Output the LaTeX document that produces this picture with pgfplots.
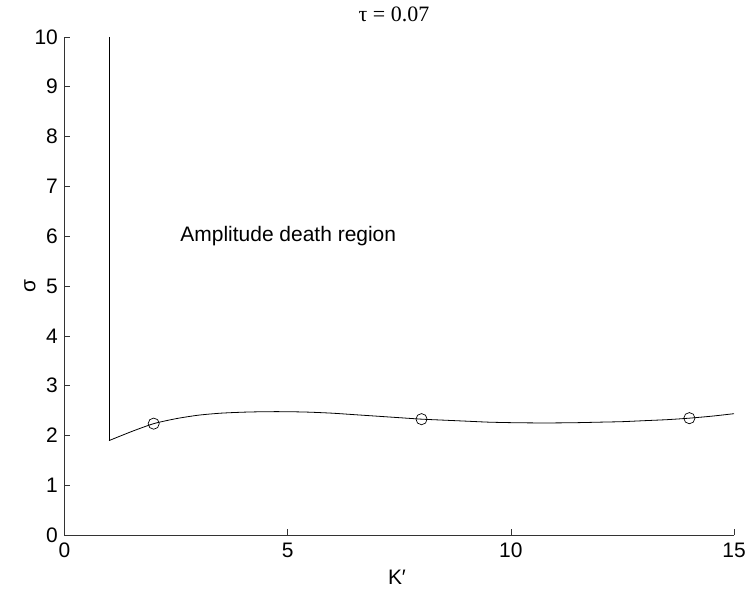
\documentclass[border=0pt]{standalone}
\usepackage{fontspec}
\setmainfont{Liberation Sans}
\newfontfamily\timesfont{Liberation Serif}
\usepackage{pgfplots}
\pgfplotsset{compat=1.18}
\begin{document}
\begin{tikzpicture}
\begin{axis}[
  at={(0,0)}, anchor=south west,
  scale only axis, width=670.5pt, height=499pt,
  xmin=0, xmax=15, ymin=0, ymax=10,
  axis x line*=bottom, axis y line*=left,
  axis line style={-, line width=0.6pt, black!80},
  tick align=inside, major tick length=6pt,
  tick style={line width=0.6pt, black!80},
  xtick={0,5,10,15}, ytick={0,1,...,10},
  tick label style={font=\fontsize{21}{25}\selectfont},
  xticklabel style={yshift=-4pt},
  yticklabel style={xshift=-3pt},
  /pgf/number format/assume math mode=true,
  clip=false,
]
\addplot[black, line width=0.8pt, smooth, tension=0.4] coordinates {
(1,1.9) (1.5,2.08) (2,2.24) (2.5,2.34) (3,2.41) (3.5,2.45) (4,2.47) (4.5,2.48) (5,2.48) (5.5,2.47) (6,2.45) (6.5,2.42) (7,2.39) (7.5,2.36) (8,2.33) (8.5,2.31) (9,2.29) (9.5,2.27) (10,2.26) (10.5,2.255) (11,2.255) (11.5,2.26) (12,2.27) (12.5,2.28) (13,2.30) (13.5,2.32) (14,2.35) (14.5,2.39) (15,2.44)
};
\addplot[black, line width=0.8pt] coordinates {(1,10) (1,1.9)};
\addplot[black, only marks, mark=o, mark size=5.6pt, mark options={line width=0.7pt}] coordinates {(2,2.24) (8,2.33) (14,2.35)};
\node[anchor=west, font=\fontsize{21}{25}\selectfont] at (axis cs:2.52,6) {Amplitude death region};
\end{axis}
\node[font=\timesfont\fontsize{22}{26}\selectfont] at (330pt,522pt) {τ = 0.07};
\node[font=\fontsize{21}{25}\selectfont, rotate=90] at (-34.5pt,249.5pt) {σ};
\node[font=\fontsize{21}{25}\selectfont] at (333pt,-42pt) {K′};
\path[use as bounding box] (-64.5pt,-55pt) rectangle (684.5pt,536pt);
\end{tikzpicture}
\end{document}
